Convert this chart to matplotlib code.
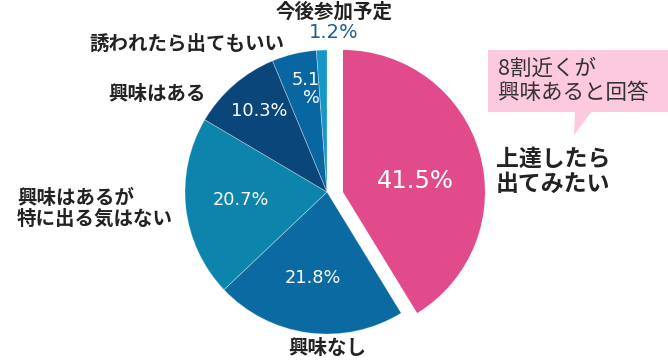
import matplotlib
matplotlib.use("Agg")
import matplotlib.pyplot as plt
from matplotlib.patches import Polygon, Rectangle
from matplotlib.transforms import Affine2D

plt.rcParams['font.family'] = ['Noto Sans CJK JP', 'DejaVu Sans']

categories = ["上達したら\n出てみたい", "興味なし", "興味はあるが\n特に出る気はない",
              "興味はある", "誘われたら出てもいい", "今後参加予定"]
values = [41.5, 21.8, 20.7, 10.3, 5.1, 1.2]
pct_labels = ["41.5%", "21.8%", "20.7%", "10.3%", "5.1\n%", "1.2%"]
colors = ["#E14B8B", "#0A6AA1", "#0C84AC", "#0B467A", "#0A66A0", "#1598C8"]
callout = "8割近くが\n興味あると回答"

fig = plt.figure(figsize=(6.68, 3.6), dpi=100)
ax = fig.add_axes([0, 0, 1, 1])

R = 142
wedges, _ = ax.pie(values, colors=colors, startangle=90, counterclock=False,
                   center=(327, 168), radius=R,
                   wedgeprops=dict(edgecolor=(1, 1, 1, 0.35), linewidth=0.6),
                   normalize=True, frame=True)
# pull the first slice out horizontally
wedges[0].set_transform(Affine2D().translate(16, 0) + ax.transData)
wedges[0].set_edgecolor('none')

ax.set_xlim(0, 668)
ax.set_ylim(0, 360)
ax.set_aspect('equal')
ax.axis('off')

def Y(y):
    return 360 - y

pf = ['DejaVu Sans']
# percentage labels
ax.text(415, Y(181), pct_labels[0], color='white', fontsize=17.5, ha='center', va='center', family=pf)
ax.text(313, Y(278), pct_labels[1], color='white', fontsize=12.8, ha='center', va='center', family=pf)
ax.text(241, Y(200), pct_labels[2], color='white', fontsize=12.8, ha='center', va='center', family=pf)
ax.text(259, Y(111), pct_labels[3], color='white', fontsize=12.8, ha='center', va='center', family=pf)
ax.text(306, Y(89), pct_labels[4], color='white', fontsize=12.8, ha='center', va='center',
        multialignment='right', linespacing=0.95, family=pf)
ax.text(334, Y(32), pct_labels[5], color='#1A5E98', fontsize=14, ha='center', va='center', family=pf)

# category labels
lab = dict(color='#222222', fontweight='bold')
ax.text(496, Y(172), categories[0], fontsize=16.5, ha='left', va='center', linespacing=1.15, **lab)
ax.text(327, Y(348), categories[1], fontsize=14, ha='center', va='center', **lab)
ax.text(17, Y(209), categories[2], fontsize=14, ha='left', va='center', linespacing=1.1, **lab)
ax.text(206, Y(95), categories[3], fontsize=14, ha='right', va='center', **lab)
ax.text(284, Y(44), categories[4], fontsize=14, ha='right', va='center', **lab)
ax.text(334, Y(12), categories[5], fontsize=14, ha='center', va='center', **lab)

# callout box
box_color = '#FDC9DE'
ax.add_patch(Rectangle((488, Y(112)), 180, 62, facecolor=box_color, edgecolor='none'))
ax.add_patch(Polygon([(575, Y(111)), (592, Y(111)), (574, Y(135))], closed=True,
                     facecolor=box_color, edgecolor='none'))
ax.text(498, Y(81), callout, fontsize=15.5, color='#333333', ha='left', va='center',
        linespacing=1.1)

fig.savefig('out.png', dpi=100)
